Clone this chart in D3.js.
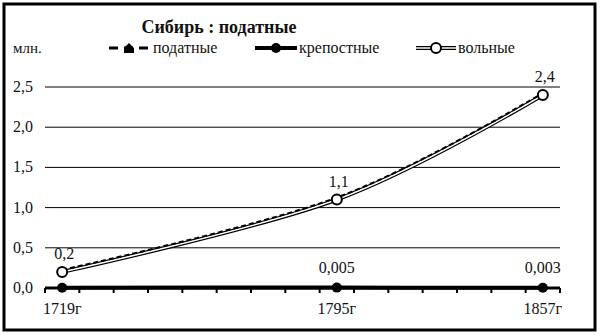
<!DOCTYPE html>
<html>
<head>
<meta charset="utf-8">
<script src="https://cdn.jsdelivr.net/npm/d3@7/dist/d3.min.js"></script>
<style>
  body { margin: 0; background: #fff; font-family: 'Liberation Serif', serif; }
  svg text { font-family: 'Liberation Serif', serif !important; }
</style>
</head>
<body>
<div id="chart"></div>
<script>
// categories on the x axis (one slot per decade, labelled only where data exists)
const categories = ['1719г', '', '', '', '', '', '', '', '1795г', '', '', '', '', '', '1857г'];
const pointSlots = [0, 8, 14];
// series, млн.
const podatnye = [0.225, 1.125, 2.425];
const krepostnye = [0.004, 0.005, 0.003];
const volnye = [0.2, 1.1, 2.4];
const volnyeLabels = ['0,2', '1,1', '2,4'];
const krepostnyeLabels = ['', '0,005', '0,003'];
const yTicks = [0, 0.5, 1, 1.5, 2, 2.5];
const seriesNames = ['податные', 'крепостные', 'вольные'];

const width = 600, height = 335;
const plot = { left: 45, right: 560, top: 87, bottom: 288 };

const svg = d3.select('#chart')
  .append('svg')
  .attr('width', width)
  .attr('height', height)
  .attr('font-family', 'Liberation Serif, serif');

// every text gets the serif face set on itself
function label(g, size) {
  return g.append('text')
    .attr('font-family', 'Liberation Serif, serif')
    .attr('font-size', size)
    .attr('fill', '#111');
}

svg.append('rect')
  .attr('x', 0).attr('y', 0)
  .attr('width', width).attr('height', height)
  .attr('fill', '#fff');

// outer frame
svg.append('rect')
  .attr('x', 4).attr('y', 4)
  .attr('width', 591).attr('height', 326)
  .attr('fill', 'none')
  .attr('stroke', '#000')
  .attr('stroke-width', 3);

const x = d3.scaleBand()
  .domain(d3.range(categories.length))
  .range([plot.left, plot.right])
  .padding(0);

const y = d3.scaleLinear()
  .domain([0, 2.5])
  .range([plot.bottom, plot.top]);

const cx = i => x(i) + x.bandwidth() / 2;
const fmt = v => d3.format('.1f')(v).replace('.', ',');

// gridlines
svg.append('g')
  .selectAll('line')
  .data(yTicks.filter(d => d > 0))
  .enter()
  .append('line')
  .attr('x1', plot.left)
  .attr('x2', plot.right)
  .attr('y1', d => y(d))
  .attr('y2', d => y(d))
  .attr('stroke', '#000')
  .attr('stroke-width', 1);

// y labels
const yg = svg.append('g');
yTicks.forEach(t => {
  label(yg, 16)
    .attr('x', 33)
    .attr('y', y(t) + 5)
    .attr('text-anchor', 'end')
    .text(fmt(t));
});

// x axis line and ticks on slot boundaries
svg.append('line')
  .attr('x1', plot.left).attr('x2', plot.right)
  .attr('y1', y(0)).attr('y2', y(0))
  .attr('stroke', '#000')
  .attr('stroke-width', 3);

svg.append('g')
  .selectAll('line')
  .data(d3.range(categories.length + 1))
  .enter()
  .append('line')
  .attr('x1', i => plot.left + i * x.bandwidth())
  .attr('x2', i => plot.left + i * x.bandwidth())
  .attr('y1', y(0))
  .attr('y2', y(0) + 5)
  .attr('stroke', '#000')
  .attr('stroke-width', 2);

const xg = svg.append('g');
categories.forEach((c, i) => {
  if (!c) return;
  label(xg, 16)
    .attr('x', cx(i))
    .attr('y', 314)
    .attr('text-anchor', 'middle')
    .text(c);
});

// series
const toPoints = vals => vals.map((v, k) => [cx(pointSlots[k]), y(v)]);
const line = d3.line().curve(d3.curveCardinal);

// вольные: double line
svg.append('path')
  .attr('d', line(toPoints(volnye)))
  .attr('fill', 'none')
  .attr('stroke', '#000')
  .attr('stroke-width', 4);
svg.append('path')
  .attr('d', line(toPoints(volnye)))
  .attr('fill', 'none')
  .attr('stroke', '#fff')
  .attr('stroke-width', 1.6);

// податные: dashed
svg.append('path')
  .attr('d', line(toPoints(podatnye)))
  .attr('fill', 'none')
  .attr('stroke', '#000')
  .attr('stroke-width', 2)
  .attr('stroke-dasharray', '5,3');

// крепостные: thick solid
svg.append('path')
  .attr('d', line(toPoints(krepostnye)))
  .attr('fill', 'none')
  .attr('stroke', '#000')
  .attr('stroke-width', 4);

svg.append('g')
  .selectAll('circle')
  .data(toPoints(krepostnye))
  .enter()
  .append('circle')
  .attr('cx', d => d[0]).attr('cy', d => d[1])
  .attr('r', 5)
  .attr('fill', '#000');

svg.append('g')
  .selectAll('circle')
  .data(toPoints(volnye))
  .enter()
  .append('circle')
  .attr('cx', d => d[0]).attr('cy', d => d[1])
  .attr('r', 5)
  .attr('fill', '#fff')
  .attr('stroke', '#000')
  .attr('stroke-width', 2);

// data labels
const dg = svg.append('g');
toPoints(volnye).forEach((p, k) => {
  label(dg, 16)
    .attr('x', p[0] + 2)
    .attr('y', p[1] - 13)
    .attr('text-anchor', 'middle')
    .text(volnyeLabels[k]);
});
toPoints(krepostnye).forEach((p, k) => {
  if (!krepostnyeLabels[k]) return;
  label(dg, 16)
    .attr('x', p[0])
    .attr('y', p[1] - 15)
    .attr('text-anchor', 'middle')
    .text(krepostnyeLabels[k]);
});

// title and unit
label(svg, 18)
  .attr('x', 219).attr('y', 33)
  .attr('text-anchor', 'middle')
  .attr('font-weight', 'bold')
  .text('Сибирь : податные');

label(svg, 15)
  .attr('x', 13).attr('y', 53)
  .text('млн.');

// legend
const legendY = 48;
const legendX = [109, 255, 416];
const lg = svg.append('g');

// податные
lg.append('line')
  .attr('x1', legendX[0]).attr('x2', legendX[0] + 40)
  .attr('y1', legendY).attr('y2', legendY)
  .attr('stroke', '#000').attr('stroke-width', 3)
  .attr('stroke-dasharray', '9,6');
lg.append('path')
  .attr('d', 'M-5,5 L-5,0 L0,-5 L5,0 L5,5 Z')
  .attr('transform', 'translate(' + (legendX[0] + 20) + ',' + legendY + ')')
  .attr('fill', '#000');

// крепостные
lg.append('line')
  .attr('x1', legendX[1]).attr('x2', legendX[1] + 42)
  .attr('y1', legendY).attr('y2', legendY)
  .attr('stroke', '#000').attr('stroke-width', 4);
lg.append('circle')
  .attr('cx', legendX[1] + 21).attr('cy', legendY)
  .attr('r', 5).attr('fill', '#000');

// вольные
lg.append('line')
  .attr('x1', legendX[2]).attr('x2', legendX[2] + 40)
  .attr('y1', legendY).attr('y2', legendY)
  .attr('stroke', '#000').attr('stroke-width', 4);
lg.append('line')
  .attr('x1', legendX[2]).attr('x2', legendX[2] + 40)
  .attr('y1', legendY).attr('y2', legendY)
  .attr('stroke', '#fff').attr('stroke-width', 1.6);
lg.append('circle')
  .attr('cx', legendX[2] + 20).attr('cy', legendY)
  .attr('r', 5).attr('fill', '#fff')
  .attr('stroke', '#000').attr('stroke-width', 2);

seriesNames.forEach((name, i) => {
  label(lg, 16)
    .attr('x', legendX[i] + (i === 2 ? 42 : 44))
    .attr('y', legendY + 5)
    .text(name);
});
</script>
</body>
</html>
